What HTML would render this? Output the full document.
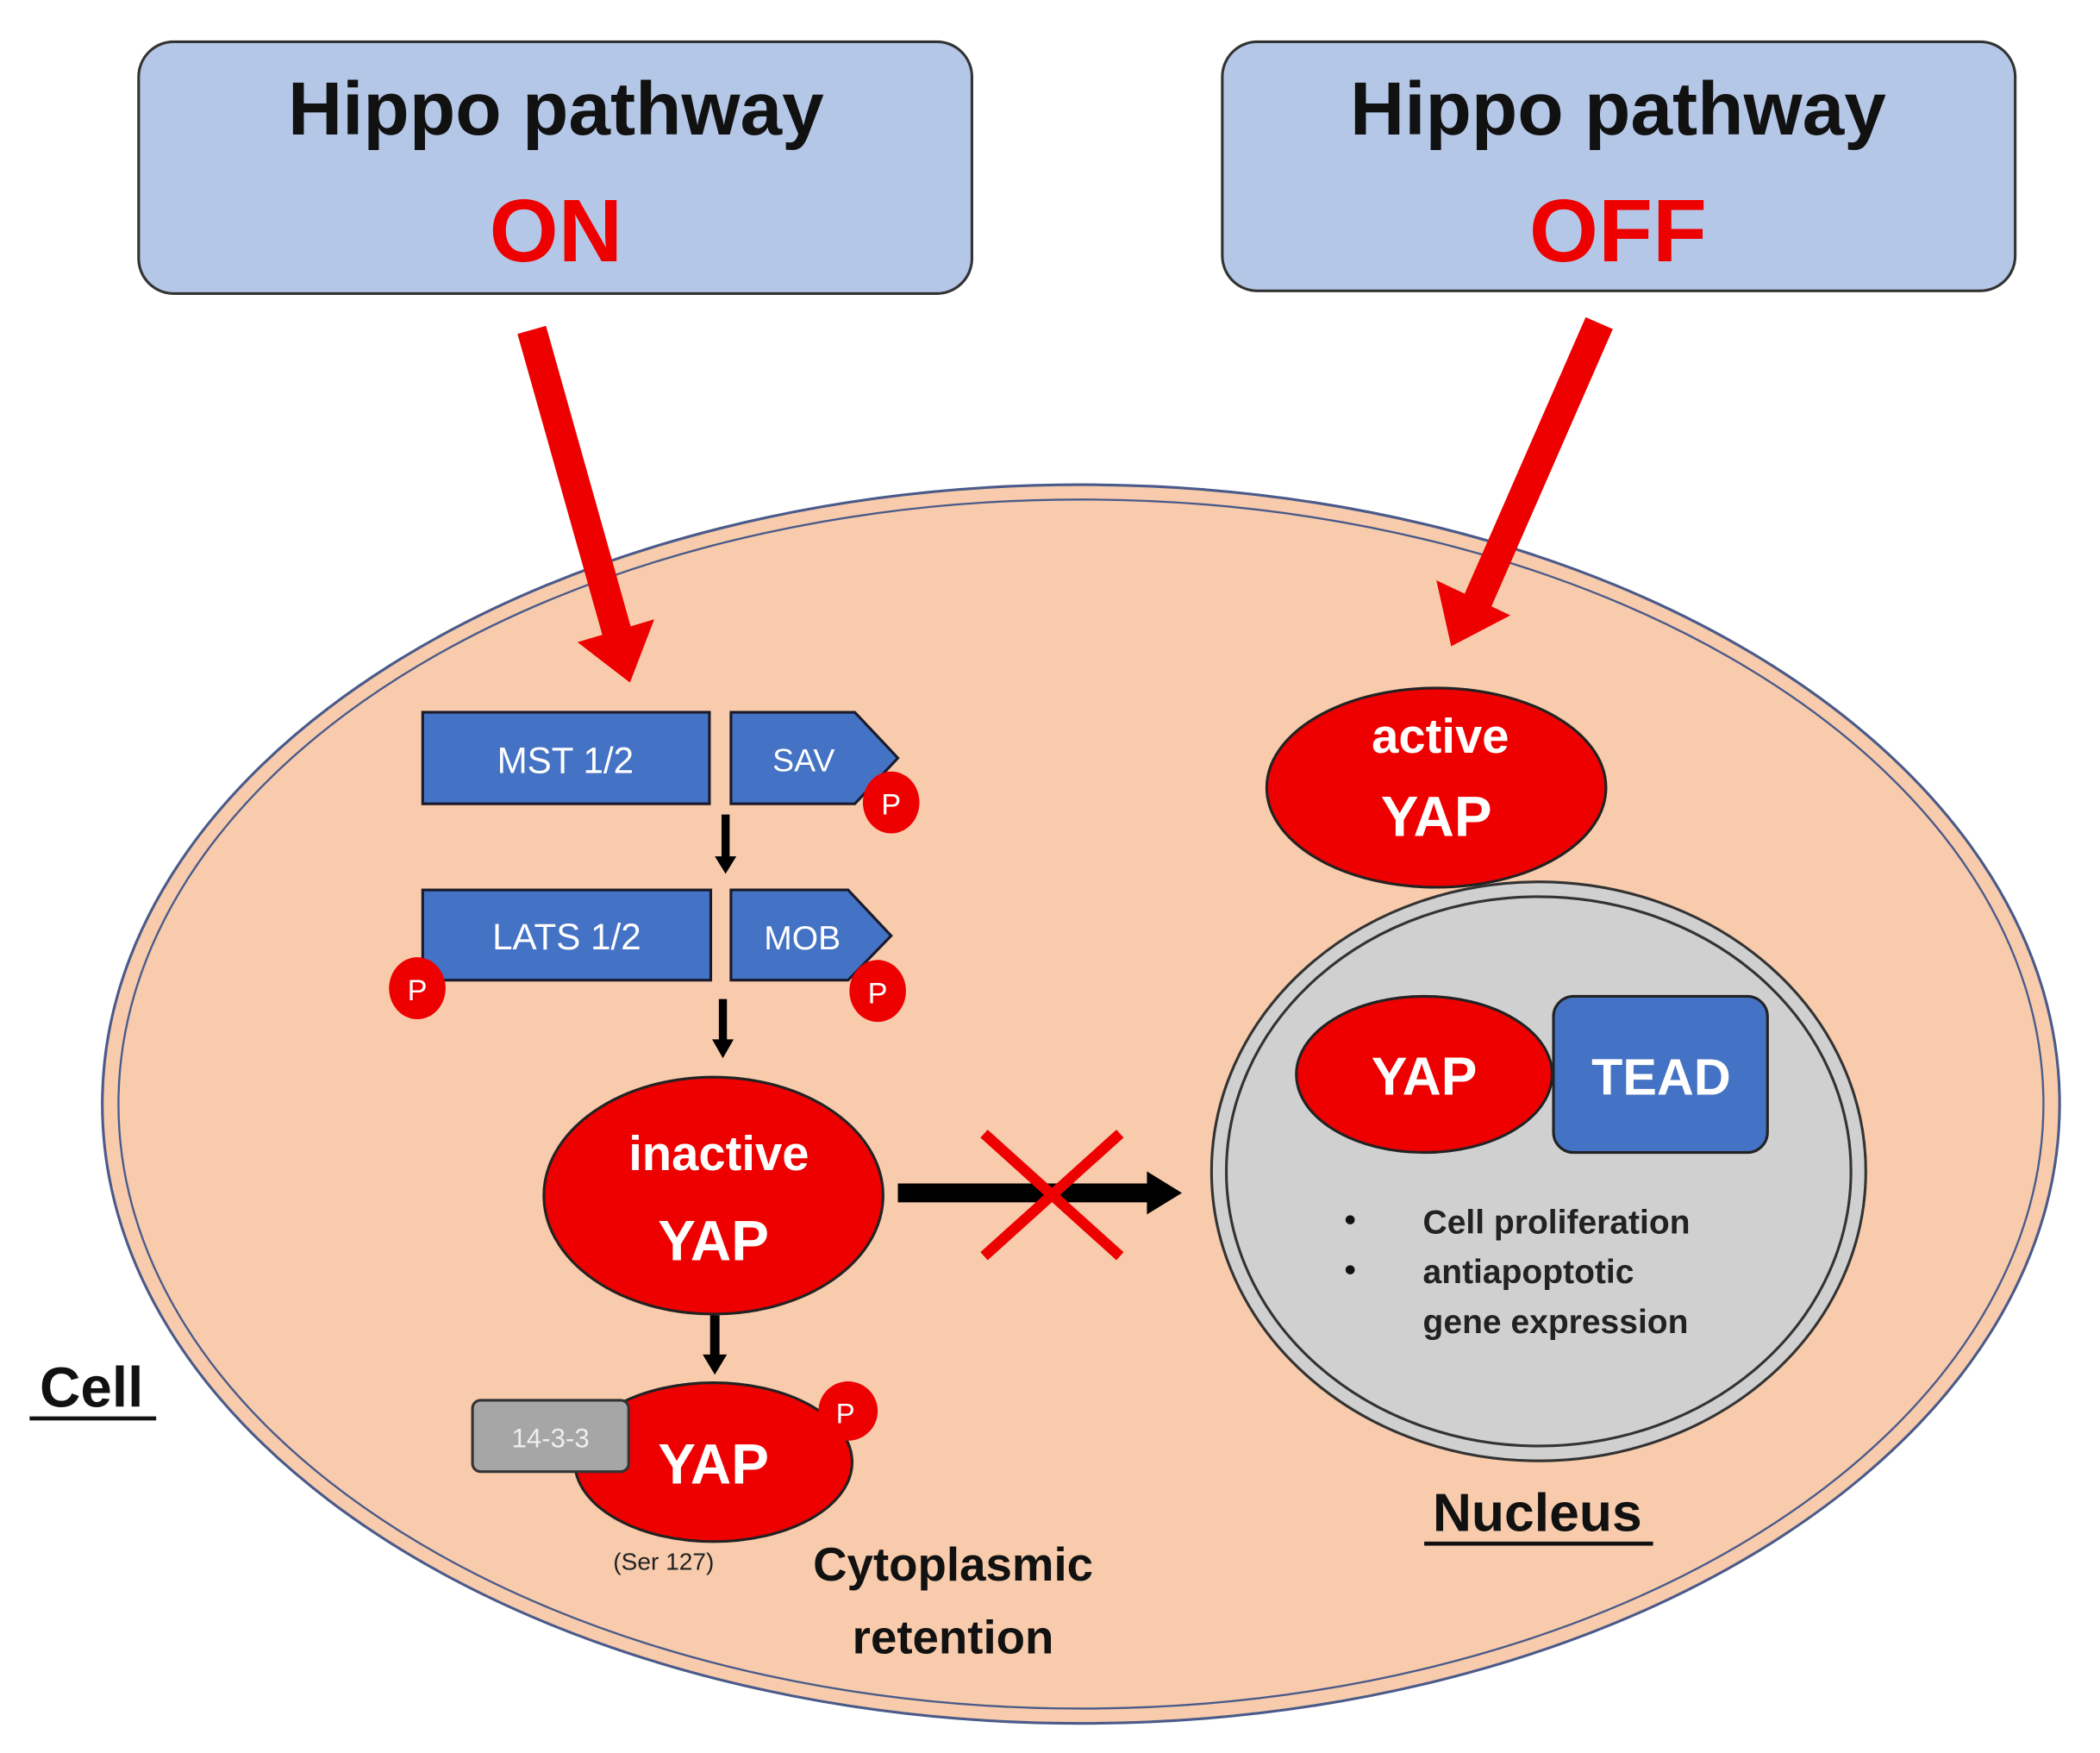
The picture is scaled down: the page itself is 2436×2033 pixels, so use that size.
<!DOCTYPE html>
<html><head><meta charset="utf-8"><style>html,body{margin:0;padding:0;background:#fff}svg{display:block}</style></head>
<body>
<svg width="2436" height="2033" viewBox="0 0 1560 1302" preserveAspectRatio="none" xmlns="http://www.w3.org/2000/svg" font-family="Liberation Sans, sans-serif" font-weight="bold">
<rect x="0" y="0" width="1560" height="1302" fill="#fff"/>
<!-- top boxes -->
<rect x="103" y="31" width="619" height="187" rx="26" fill="#b4c7e7" stroke="#333" stroke-width="2"/>
<text x="413" y="100" font-size="56" text-anchor="middle" fill="#111">Hippo pathway</text>
<text x="413" y="194" font-size="66" text-anchor="middle" fill="#e00">ON</text>
<rect x="908" y="31" width="589" height="185" rx="26" fill="#b4c7e7" stroke="#333" stroke-width="2"/>
<text x="1202" y="100" font-size="56" text-anchor="middle" fill="#111">Hippo pathway</text>
<text x="1202" y="194" font-size="66" text-anchor="middle" fill="#e00">OFF</text>
<!-- cell -->
<ellipse cx="803" cy="820" rx="727" ry="460" fill="#f7cbac" stroke="#4a5a8a" stroke-width="2"/>
<ellipse cx="803" cy="820" rx="715" ry="449" fill="none" stroke="#4a5a8a" stroke-width="1.5"/>
<!-- red arrows -->
<line x1="395" y1="245" x2="459" y2="472" stroke="#e00" stroke-width="22"/>
<polygon points="486,460 429,477 468,507" fill="#e00"/>
<line x1="1188" y1="240" x2="1097" y2="448" stroke="#e00" stroke-width="22"/>
<polygon points="1122,457 1067,431 1078,480" fill="#e00"/>
<!-- MST/SAV -->
<rect x="314" y="529" width="213" height="68" fill="#4472c4" stroke="#1a1a2a" stroke-width="2"/>
<text x="420" y="574" font-size="27" font-weight="normal" text-anchor="middle" fill="#fff">MST 1/2</text>
<polygon points="543,529 635,529 667,563 635,597 543,597" fill="#4472c4" stroke="#1a1a2a" stroke-width="2"/>
<text x="597" y="573" font-size="24" font-weight="normal" text-anchor="middle" fill="#fff">SAV</text>
<ellipse cx="662" cy="596" rx="21" ry="23" fill="#e00"/>
<text x="662" y="605" font-size="22" font-weight="normal" text-anchor="middle" fill="#fff">P</text>
<line x1="539" y1="605" x2="539" y2="638" stroke="#000" stroke-width="6"/>
<polygon points="531,636 547,636 539,649" fill="#000"/>
<!-- LATS/MOB -->
<rect x="314" y="661" width="214" height="67" fill="#4472c4" stroke="#1a1a2a" stroke-width="2"/>
<text x="421" y="705" font-size="27" font-weight="normal" text-anchor="middle" fill="#fff">LATS 1/2</text>
<polygon points="543,661 630,661 662,695 630,728 543,728" fill="#4472c4" stroke="#1a1a2a" stroke-width="2"/>
<text x="596" y="705" font-size="25" font-weight="normal" text-anchor="middle" fill="#fff">MOB</text>
<ellipse cx="310" cy="734" rx="21" ry="23" fill="#e00"/>
<text x="310" y="743" font-size="22" font-weight="normal" text-anchor="middle" fill="#fff">P</text>
<ellipse cx="652" cy="736" rx="21" ry="23" fill="#e00"/>
<text x="652" y="745" font-size="22" font-weight="normal" text-anchor="middle" fill="#fff">P</text>
<line x1="537" y1="742" x2="537" y2="774" stroke="#000" stroke-width="6"/>
<polygon points="529,772 545,772 537,786" fill="#000"/>
<!-- inactive YAP -->
<ellipse cx="530" cy="888" rx="126" ry="88" fill="#e00" stroke="#222" stroke-width="2"/>
<text x="534" y="869" font-size="36" text-anchor="middle" fill="#fff">inactive</text>
<text x="530" y="936" font-size="42" text-anchor="middle" fill="#fff">YAP</text>
<line x1="531" y1="977" x2="531" y2="1008" stroke="#000" stroke-width="7"/>
<polygon points="522,1006 540,1006 531,1021" fill="#000"/>
<!-- bottom YAP -->
<ellipse cx="530" cy="1086" rx="103" ry="59" fill="#e00" stroke="#222" stroke-width="2"/>
<rect x="351" y="1040" width="116" height="53" rx="6" fill="#a6a6a6" stroke="#333" stroke-width="2"/>
<text x="409" y="1075" font-size="20" font-weight="normal" text-anchor="middle" fill="#eee">14-3-3</text>
<text x="530" y="1102" font-size="42" text-anchor="middle" fill="#fff">YAP</text>
<ellipse cx="630" cy="1048" rx="22" ry="22" fill="#e00"/>
<text x="628" y="1057" font-size="21" font-weight="normal" text-anchor="middle" fill="#fff">P</text>
<text x="493" y="1166" font-size="18" font-weight="normal" text-anchor="middle" fill="#222">(Ser 127)</text>
<text x="708" y="1174" font-size="35" text-anchor="middle" fill="#111">Cytoplasmic</text>
<text x="708" y="1228" font-size="35" text-anchor="middle" fill="#111">retention</text>
<text x="68" y="1045" font-size="42" text-anchor="middle" fill="#111">Cell</text>
<rect x="22" y="1052" width="94" height="3" fill="#111"/>
<!-- blocked arrow -->
<line x1="667" y1="886" x2="855" y2="886" stroke="#000" stroke-width="14"/>
<polygon points="852,870 878,886 852,902" fill="#000"/>
<line x1="731" y1="842" x2="832" y2="933" stroke="#e00" stroke-width="8"/>
<line x1="731" y1="933" x2="832" y2="842" stroke="#e00" stroke-width="8"/>
<!-- nucleus -->
<ellipse cx="1143" cy="870" rx="243" ry="215" fill="#d0d0d0" stroke="#333" stroke-width="2"/>
<ellipse cx="1143" cy="870" rx="232" ry="204" fill="none" stroke="#333" stroke-width="2"/>
<!-- active YAP -->
<ellipse cx="1067" cy="585" rx="126" ry="74" fill="#e00" stroke="#222" stroke-width="2"/>
<text x="1070" y="559" font-size="36" text-anchor="middle" fill="#fff">active</text>
<text x="1067" y="621" font-size="42" text-anchor="middle" fill="#fff">YAP</text>
<!-- YAP TEAD -->
<rect x="1154" y="740" width="159" height="116" rx="15" fill="#4472c4" stroke="#222" stroke-width="2"/>
<ellipse cx="1058" cy="798" rx="95" ry="58" fill="#e00" stroke="#222" stroke-width="2"/>
<text x="1058" y="813" font-size="40" text-anchor="middle" fill="#fff">YAP</text>
<text x="1234" y="813" font-size="38" text-anchor="middle" fill="#fff">TEAD</text>
<text x="1003" y="914" font-size="24" text-anchor="middle" fill="#111">•</text>
<text x="1003" y="951" font-size="24" text-anchor="middle" fill="#111">•</text>
<text x="1057" y="916" font-size="25" fill="#222">Cell proliferation</text>
<text x="1057" y="953" font-size="25" fill="#222">antiapoptotic</text>
<text x="1057" y="990" font-size="25" fill="#222">gene expression</text>
<text x="1142" y="1137" font-size="40" text-anchor="middle" fill="#111">Nucleus</text>
<rect x="1058" y="1145" width="170" height="3" fill="#111"/>
</svg>
</body></html>
